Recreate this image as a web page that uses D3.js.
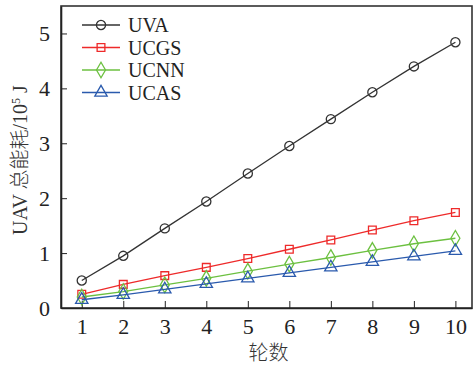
<!DOCTYPE html>
<html lang="zh">
<head>
    <meta charset="UTF-8">
    <title>UAV energy</title>
    <script src="https://d3js.org/d3.v7.min.js"></script>
    <style>
        body { margin: 0; background: #fff; }
        svg { display: block; font-family: "Liberation Serif", "Times New Roman", serif; }
        .axis text { font-family: "Liberation Serif", "Times New Roman", serif; font-size: 22px; fill: #222; }
        .tick line { stroke: #222; }
        .domain { stroke: #222; }
    </style>
</head>
<body>
<script>
    const rounds = [1, 2, 3, 4, 5, 6, 7, 8, 9, 10];
    const uva  = [0.50, 0.95, 1.45, 1.94, 2.45, 2.95, 3.44, 3.93, 4.40, 4.84];
    const ucgs = [0.25, 0.43, 0.59, 0.74, 0.90, 1.07, 1.24, 1.42, 1.59, 1.74];
    const ucnn = [0.20, 0.30, 0.42, 0.54, 0.67, 0.80, 0.92, 1.05, 1.17, 1.27];
    const ucas = [0.15, 0.24, 0.34, 0.44, 0.54, 0.64, 0.74, 0.84, 0.94, 1.04];
    const yTicks = [0, 1, 2, 3, 4, 5];

    const series = [
        {name: "UVA",  values: uva,  color: "#333333", shape: "circle"},
        {name: "UCGS", values: ucgs, color: "#ee2a2a", shape: "square"},
        {name: "UCNN", values: ucnn, color: "#6cc040", shape: "diamond"},
        {name: "UCAS", values: ucas, color: "#2a5aad", shape: "triangle"}
    ];

    const width = 475, height = 369;
    const mLeft = 61, mRight = 472, mTop = 6, mBottom = 308;

    const x = d3.scaleLinear().domain([0.5, 10.4]).range([mLeft, mRight]);
    const y = d3.scaleLinear().domain([0, 5.5]).range([mBottom, mTop]);

    const svg = d3.select("body").append("svg")
        .attr("width", width).attr("height", height);

    // frame
    svg.append("rect")
        .attr("x", mLeft).attr("y", mTop)
        .attr("width", mRight - mLeft).attr("height", mBottom - mTop)
        .attr("fill", "none").attr("stroke", "#333").attr("stroke-width", 1.6);

    svg.append("g").attr("class", "axis")
        .attr("transform", `translate(0,${mBottom})`)
        .call(d3.axisBottom(x).tickValues(rounds).tickFormat(d3.format("d"))
            .tickSize(-7).tickSizeOuter(0).tickPadding(10))
        .call(g => g.select(".domain").attr("stroke-width", 1.6));

    svg.append("g").attr("class", "axis")
        .attr("transform", `translate(${mLeft},0)`)
        .call(d3.axisLeft(y).tickValues(yTicks).tickFormat(d3.format("d"))
            .tickSize(-6).tickSizeOuter(0).tickPadding(11))
        .call(g => g.select(".domain").attr("stroke-width", 1.6));

    const symbols = {
        circle: d3.symbol(d3.symbolCircle, 66),
        square: d3.symbol(d3.symbolSquare, 60),
        diamond: d3.symbol(d3.symbolDiamond, 70),
        triangle: d3.symbol(d3.symbolTriangle, 66)
    };

    const line = d3.line().x((d, i) => x(rounds[i])).y(d => y(d));

    series.forEach(s => {
        svg.append("path")
            .attr("d", line(s.values))
            .attr("fill", "none")
            .attr("stroke", s.color)
            .attr("stroke-width", 1.3);
        svg.append("g").selectAll("path")
            .data(s.values)
            .join("path")
            .attr("transform", (d, i) => `translate(${x(rounds[i])},${y(d)})`)
            .attr("d", symbols[s.shape]())
            .attr("fill", "none")
            .attr("stroke", s.color)
            .attr("stroke-width", 1.3);
    });

    // legend
    const legend = svg.append("g").attr("transform", "translate(82,25)");
    series.forEach((s, i) => {
        const row = legend.append("g").attr("transform", `translate(0,${i * 22.5})`);
        row.append("line").attr("x1", 0).attr("x2", 38)
            .attr("stroke", s.color).attr("stroke-width", 1.3);
        row.append("path").attr("transform", "translate(19,0)")
            .attr("d", symbols[s.shape]())
            .attr("fill", "none").attr("stroke", s.color).attr("stroke-width", 1.3);
        row.append("text").attr("x", 46).attr("dy", "0.35em")
            .attr("font-size", 20).attr("fill", "#222").text(s.name);
    });

    // axis titles
    svg.append("text")
        .attr("x", (mLeft + mRight) / 2 + 2).attr("y", 360)
        .attr("text-anchor", "middle").attr("font-size", 20).attr("fill", "#333")
        .attr("font-family", "Noto Sans CJK SC, sans-serif")
        .style("font-weight", 300)
        .text("轮数");

    const yt = svg.append("text")
        .attr("transform", `translate(27,${(mTop + mBottom) / 2 + 3}) rotate(-90)`)
        .attr("text-anchor", "middle").attr("font-size", 20).attr("fill", "#333");
    yt.append("tspan").text("UAV ");
    yt.append("tspan").attr("font-family", "Noto Sans CJK SC, sans-serif").style("font-weight", 300).text("总能耗");
    yt.append("tspan").text("/10");
    yt.append("tspan").attr("font-size", 12).attr("dy", -7).text("5");
    yt.append("tspan").attr("dy", 7).text(" J");
</script>
</body>
</html>
